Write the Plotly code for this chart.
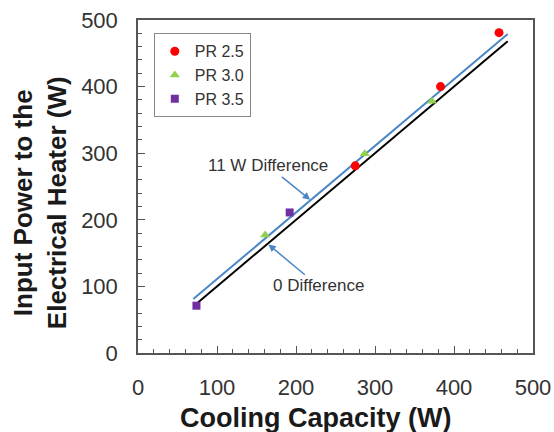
import plotly.graph_objects as go

# data
pr25_x = [457, 383, 275]
pr25_y = [481, 400, 281]
pr30_x = [372, 287, 161]
pr30_y = [378, 299, 177]
pr35_x = [192, 74]
pr35_y = [211, 71]
zero_line_x = [74, 468]
zero_line_y = [74, 468]
offset_line_x = [70, 468]
offset_line_y = [81, 479]
x_ticks = [0, 100, 200, 300, 400, 500]
y_ticks = [0, 100, 200, 300, 400, 500]

FONT = "Liberation Sans, Arial, sans-serif"
BLUE = "#4a86c8"
TXT = "#333333"

fig = go.Figure()
fig.add_trace(go.Scatter(x=zero_line_x, y=zero_line_y, mode="lines",
                         line=dict(color="black", width=2), showlegend=False))
fig.add_trace(go.Scatter(x=offset_line_x, y=offset_line_y, mode="lines",
                         line=dict(color=BLUE, width=2), showlegend=False))
fig.add_trace(go.Scatter(x=pr25_x, y=pr25_y, mode="markers", name="PR 2.5",
                         marker=dict(symbol="circle", color="#ff0000", size=9)))
fig.add_trace(go.Scatter(x=pr30_x, y=pr30_y, mode="markers", name="PR 3.0",
                         marker=dict(symbol="triangle-up", color="#92d050", size=9)))
fig.add_trace(go.Scatter(x=pr35_x, y=pr35_y, mode="markers", name="PR 3.5",
                         marker=dict(symbol="square", color="#7030a0", size=8)))

fig.add_annotation(x=218, y=230, ax=165, ay=281, xref="x", yref="y", axref="x", ayref="y",
                   text="11 W Difference", showarrow=True, arrowhead=2, arrowsize=1,
                   arrowwidth=1.5, arrowcolor=BLUE, standoff=0,
                   font=dict(family=FONT, size=17, color=TXT))
fig.add_annotation(x=165, y=163, ax=228, ay=101, xref="x", yref="y", axref="x", ayref="y",
                   text="0 Difference", showarrow=True, arrowhead=2, arrowsize=1,
                   arrowwidth=1.5, arrowcolor=BLUE, standoff=0,
                   font=dict(family=FONT, size=17, color=TXT))

# axis titles
fig.add_annotation(x=0.4506, y=-0.195, xref="paper", yref="paper",
                   xanchor="center", yanchor="middle", showarrow=False,
                   text="<b>Cooling Capacity (W)</b>",
                   font=dict(family=FONT, size=27, color="#1a1a1a"))
fig.add_annotation(x=-0.248, y=0.45, xref="paper", yref="paper",
                   xanchor="center", yanchor="middle", showarrow=False, textangle=-90,
                   text="<b>Input Power to the<br>Electrical Heater (W)</b>",
                   font=dict(family=FONT, size=26, color="#1a1a1a"))

axis_common = dict(range=[0, 500], tickmode="array", showgrid=False, zeroline=False,
                   showline=True, mirror=True, linecolor="#555", linewidth=1.5,
                   ticks="inside", ticklen=7, tickcolor="#555", automargin=False,
                   tickfont=dict(family=FONT, size=22, color=TXT),
                   minor=dict(dtick=20, ticks="inside", ticklen=4, tickcolor="#555"))

fig.update_xaxes(tickvals=x_ticks, ticklabelstandoff=14, **axis_common)
fig.update_yaxes(tickvals=y_ticks, ticklabelstandoff=14, **axis_common)

fig.update_layout(
    width=554, height=432,
    margin=dict(l=138, r=21, t=20, b=79),
    paper_bgcolor="white", plot_bgcolor="white",
    legend=dict(x=0.04, y=0.96, xanchor="left", yanchor="top",
                bordercolor="#888", borderwidth=1,
                font=dict(family=FONT, size=16, color=TXT),
                itemwidth=30, tracegroupgap=0),
    font=dict(family=FONT),
)

fig.write_html("out.html", config={"displayModeBar": False},
               post_script="document.body.style.margin='0px';document.body.style.overflow='hidden';")
